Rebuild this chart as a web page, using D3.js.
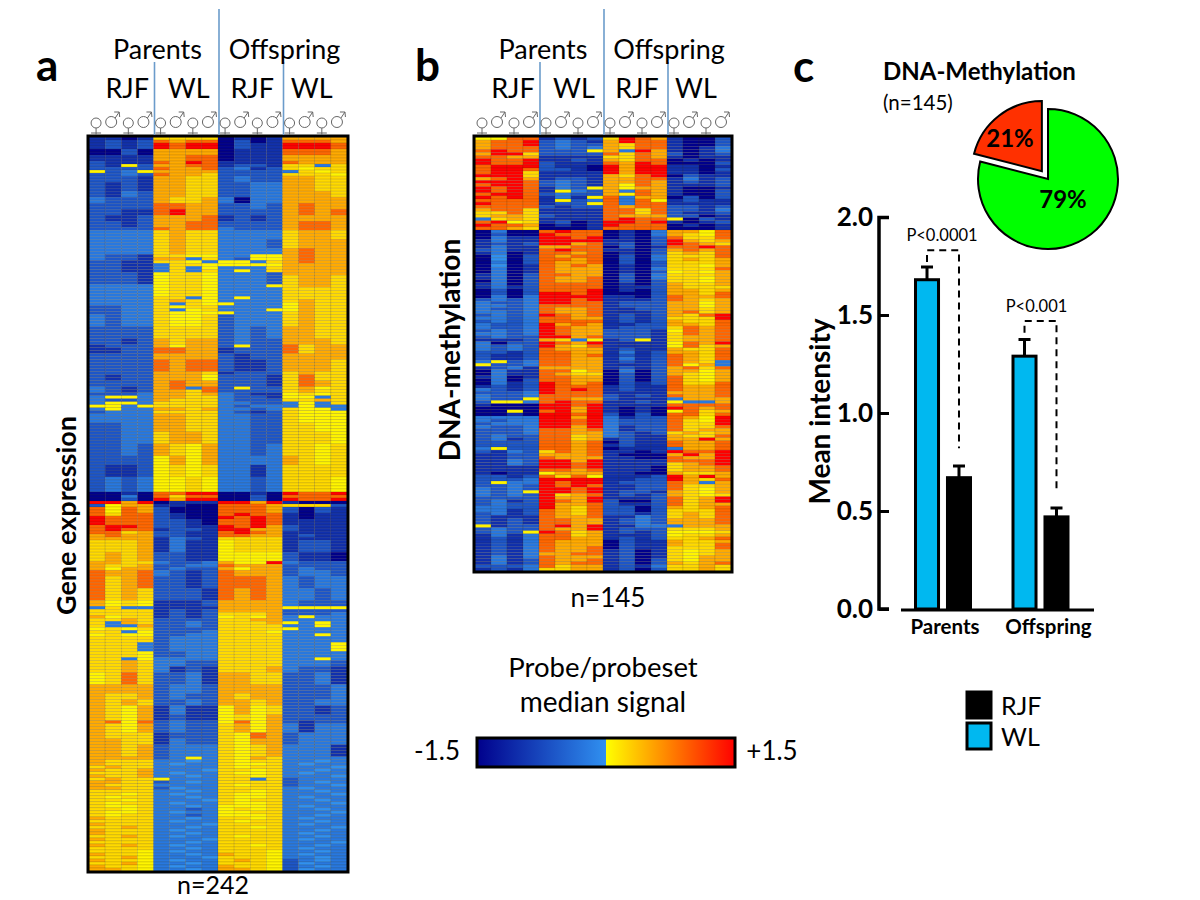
<!DOCTYPE html>
<html><head><meta charset="utf-8">
<script src="https://cdn.jsdelivr.net/npm/d3@7"></script>
<style>html,body{margin:0;background:#fff}svg{display:block}text{font-family:Lato,"Open Sans",sans-serif;fill:#000}</style>
</head><body><svg id="c" width="1200" height="900"></svg>
<script>
// colour levels: digit in the row strings -> signal value
const levels = [-1.5,-1.0,-.6,-.25,-.001,.06,.22,.5,.9,1.5];
const sampleGroups = ["RJF","WL","RJF","WL"];
const sampleLabelShift = [8,3,4,-3];
const sexes = ["f","m","f","m"];
// Panel a rows (digit per sample, "xN" = N consecutive rows alike)
const heatA = [
"1101 6666 0101 7777","1212 8788 0201 8887","1212 9899 0211 9998x2","0020 7777 0111 8887x2",
"1111 7788 0111 7777x2","2111 8798 1111 8777","2152 7788 1221 6636","2222 8778 2312 6566",
"5235 7777 2222 3656","2232 8776 2222 6665","2221 7766 2322 7766x2","2121 7766 2233 7766x3",
"2132 7766 2233 7776x2","3222 7667 3033 7777x2","2222 8877 2232 7877x2","2211 8977 2222 7878x2",
"2112 7778 1212 7777x2","2212 7788 2222 7887x2","2222 8788 3222 7887","3333 6766 3333 6776x3",
"3333 6766 3332 6777x3","3333 6766 3333 7877x2","3221 6655 3355 7877","3221 7736 3255 7877",
"2211 6653 5536 7877","2211 3665 5555 7777","2211 3635 3336 7777","2211 3636 3536 7777",
"2221 5665 3332 7777","2221 5665 3332 6776x3","3333 5665 3335 6776","3333 5665 3333 6666x3",
"3333 6635 3533 6666","3333 6765 3333 6766","3333 6365 5333 5766","2233 6566 3333 5766",
"2233 6356 3335 5766","2233 6555 5333 6766","3233 6556 2333 6766x4","2222 6666 2323 7766x4",
"2212 7677 2322 7776x2","1222 7577 2522 8677","1122 8877 1222 8677x2","2222 7777 2122 7777x2",
"2222 8788 2112 7776x4","2222 7776 1222 6766","2122 7775 2221 6866x2","2222 7877 2221 6876x2",
"3212 7838 2522 6756","3212 7768 2222 6766","2223 7767 3211 5656","3553 7766 3221 5536",
"3223 7666 3222 6676","3553 6666 3322 3536","5535 6666 3233 3533","3533 7767 3323 6553",
"2333 6666 3212 6555","3333 7766 3322 6555x3","2233 7766 3322 6655x3","2233 6776 3322 6665x4",
"2232 7657 3323 6656x4","2222 5757 3333 7656x3","2112 5656 3313 6666x4","2323 5565 3323 6665x5",
"0010 8899 0010 9889","0030 8688 0020 8888","0020 9799 0020 9889",
"9979 0111 9979 1000","2577 1100 8887 6662","8587 2000 8887 2021x2","8688 2100 8988 1011",
"9888 2100 9898 1011","9888 2210 8898 1111x2","8998 2211 9897 2111","8988 1221 9977 2111",
"8867 2211 8987 1111","7877 2211 8877 1211","7777 1321 6666 1111","6667 1311 5666 1221x4",
"6767 2211 5555 2110x3","7766 3223 7559 3222","7667 2233 8777 2222","7577 2322 7577 2322",
"8778 3212 8777 2332x2","8678 2212 8887 3233x4","8676 2221 8787 3323x4","7565 1112 7777 3222x2",
"3633 1111 7777 5555","6666 1212 7777 2222","6666 1212 6667 2223","7566 1212 5657 3533",
"6676 2222 6677 3333","6376 2232 6667 5353","6337 2232 6666 3353","5656 2222 6666 5333",
"6635 2223 6665 3333","5655 2233 6666 3353","6666 2333 6666 3333x2","6663 2333 6666 3335x3",
"6665 2233 6666 3333x2","6635 3333 6666 3353","6676 3322 6666 3332x2","6676 3121 6667 3221x2",
"5686 2231 7766 2231x4","7777 2332 7777 2223x3","7667 2322 7677 2223x2","7676 2232 7767 2233x2",
"7657 1311 5756 2212x3","7657 1211 5657 2222x2","7858 2322 5857 2122","7657 2322 6757 3133x3",
"7666 1222 6587 2333x2","7766 1322 6577 2333x2","7767 2333 6567 3331x4","7777 2353 6576 3333",
"7666 3343 6566 3343","7666 3433 6556 3433","6766 3333 6566 3334","7667 3334 6656 3343","6667 3433 6556 3433","7667 3343 6656 3334",
"6766 5333 6636 2333","7766 2343 6666 2343","7666 3333 6566 2334","7766 2433 6666 3433","6666 3343 6656 3343",
"6656 3433 6556 3334","6566 3343 6556 3433","6656 3334 6566 3343","6566 3433 6556 3334",
"6556 3343 5556 3433","6656 3323 5656 3343","6556 3433 5566 3334","6566 3323 5556 3343",
"7666 3343 6656 3433","6666 3433 6566 3343","7666 3334 6666 3433","6676 3343 6656 3334","7666 3433 6666 3343",
"7666 3343 6666 3433","6676 3433 6566 3343","7666 3334 6666 3433","6666 3343 6666 3334","7676 3433 6656 3343","6666 3343 6666 3433",
"6665 3433 6665 3343","7665 3343 7665 3433","6675 3334 6665 3343",
"7665 3433 6765 2343","6675 3343 6665 2433","7665 3433 7665 2343","7765 3343 7765 2433"
];
// Panel b rows
const heatB = [
"5588 1212 6987 1002","7889 2321 7988 1002","7889 2322 7688 1002","7888 2323 7688 1013","8988 2225 7397 1013",
"7996 2222 8687 2012","8877 1111 6687 1011","9889 1121 7688 0101","9889 2111 8798 0002","8999 2110 9799 1101",
"8998 2210 9799 1102","8996 1111 9799 1101","9996 1111 7689 0211","7897 1221 7788 1312","9998 2321 7787 1212",
"8998 2321 7587 1112","9898 1325 7577 1001","9898 1532 7387 1002","8998 2322 7587 1002","9898 1315 8377 0202",
"8888 1523 8385 1211","9888 1225 8388 1111","8888 2122 8788 2212","7886 1111 8868 2213","6686 1111 8868 2112",
"6776 2111 8777 2201","3676 1111 8988 5021","8956 1201 9989 1012","9887 0101 9888 0101","8876 0001 8888 0001",
"0300 8988 0103 7758","0200 9888 0103 7658","0311 9989 0102 8668","1311 9999 1102 9767","1212 9978 1202 9876",
"1311 7788 0201 8898","2311 8988 1102 7878","1301 8878 0102 6768","0402 8788 0203 6668","0402 8878 0203 6767",
"0302 8778 0202 6667","0401 8787 0102 6657","0301 8777 0103 6668","0301 8777 0102 5657","1302 8877 0203 6667",
"1302 8778 0203 6657","0302 8778 0202 6657","1302 8888 0102 7667","1312 8888 0112 7666","0202 8889 0102 7767",
"0202 9989 0002 7768","0303 9999 1102 8778","2323 9989 1112 8767","3223 9988 1222 7757","3323 8888 1222 7757",
"3223 8778 1122 7767","3323 8778 1112 7867","2323 9878 1212 7689","3323 8877 1212 6669","2323 8888 1212 7668",
"3223 9787 1122 7768","3223 9877 1222 6878","2323 9877 2221 5878","3323 9877 2221 6878","2322 9978 2221 6778",
"1112 7635 1251 6778","3022 9879 1111 5879","3232 9768 1111 5867","3232 8777 1211 7668","2212 8877 1312 7768",
"2112 8878 1212 8768","2112 8877 1312 8768","3523 8877 1212 8763","5223 8877 1112 8573","1231 7777 1212 7868",
"0311 8857 0302 7757","0311 8766 0202 7657","1301 8877 0202 8657","0302 8877 0202 8657","0312 9878 0212 8668",
"1212 9888 1211 8778","3212 9898 1211 8778","2223 9888 1111 7778","3223 8888 2121 8778","3225 8877 2111 3777",
"2553 8988 1121 5337","1000 9989 1111 8888","0000 9979 1010 9878","0050 8979 1010 5867","0010 9989 2020 8868",
"3333 9979 3122 8759","3233 9989 3222 8659","2333 9989 3222 8669","3223 9979 3122 8668","2223 8878 3122 8677",
"2223 8877 3212 6767","2322 8867 3211 7668","2312 8867 1211 7797","2222 8878 0211 8778","2222 8878 1211 8778",
"3522 8878 0111 3778","2132 6878 1101 9889","1122 7778 1000 7979","1122 8777 1100 8779","1132 9979 1111 8889",
"1132 9989 1111 6789","1111 9989 1110 6778","1111 8878 1110 6778","1011 5777 1100 7667","2212 8685 1112 9797",
"2223 9999 1122 9768","2533 9899 1222 8737","2232 9898 1122 8667","3232 9989 1122 8657","3235 9989 1221 7657",
"3232 9678 1212 7656","2222 9779 1112 8679","2312 9879 2002 8679","2322 9778 2112 8677","3322 9768 2202 7678",
"3312 8768 2202 6668","2312 8768 2212 6768","2111 8778 1132 6768","2121 8877 1232 7778","2121 8877 1232 7778",
"5122 8979 1133 3777","2322 8779 1222 6667","2325 9867 1212 5556","1313 8867 1112 5667","1213 8877 1212 6678",
"1213 8777 0211 7667","1213 8777 0211 7668","1213 8778 0211 6668","1213 8778 1201 6567","1213 7788 1201 6567",
"1313 8777 1201 6577","1312 8778 1202 6577","1312 8788 1202 7678","2223 8677 1213 6676","1213 6677 1202 6676"
];
// Panel c
const pieLabels = ["79%","21%"], pieValues = [79,21];
const barGroups = ["Parents","Offspring"], barSeries = ["WL","RJF"];
const barWL = [1.68,1.29], barRJF = [.67,.47];
const errWL = [1.745,1.375], errRJF = [.73,.515];
const bracketTop = [1.83,1.47], bracketLeftFrom = [1.77,1.41], bracketRightTo = [.82,.59];
const pValues = ["P<0.0001","P<0.001"];
const yTicks = [0,.5,1,1.5,2];

const svg = d3.select("#c");
const color = d3.scaleLinear().domain([-1.5,-.001,0,1.5]).range(["#00008c","#3090f0","#ffff00","#ff0000"]);
const txt = (x,y,s,size,o={}) => svg.append("text").attr("x",x).attr("y",y).attr("font-size",size)
  .attr("text-anchor",o.anchor||"middle").attr("font-weight",o.bold?"700":"400")
  .attr("transform",o.rot?`rotate(${o.rot} ${x} ${y})`:null).style("font-family",o.family||null).text(s);

function heat(rowsSrc, x0, x1, y0, y1){
  const rows=[];
  rowsSrc.forEach(r=>{const [v,n]=r.split("x");const d=v.replace(/ /g,"").split("").map(c=>levels[+c]);for(let i=0;i<(+n||1);i++)rows.push(d);});
  const X=d3.scaleBand().domain(d3.range(16)).range([x0,x1]);
  const Y=d3.scaleBand().domain(d3.range(rows.length)).range([y0,y1]);
  const g=svg.append("g");
  rows.forEach((r,i)=>g.selectAll(null).data(r).join("rect")
    .attr("x",(d,j)=>X(j)).attr("y",Y(i)).attr("width",X.bandwidth()).attr("height",Y.bandwidth())
    .attr("fill",d=>color(d)).attr("stroke","#3a2a00").attr("stroke-opacity",.28).attr("stroke-width",.5));
  svg.append("rect").attr("x",x0-1).attr("y",y0-1).attr("width",x1-x0+2).attr("height",y1-y0+2)
    .attr("fill","none").attr("stroke","#000").attr("stroke-width",3);
  // header
  const mid=(x0+x1)/2, q=(x1-x0)/4;
  [[mid-q,62],[mid,9],[mid+q,62]].forEach(([x,t])=>svg.append("line").attr("x1",x+1).attr("x2",x+1).attr("y1",t).attr("y2",y0-2).attr("stroke","#6b9ccb").attr("stroke-width",1.6));
  txt(mid-q+4,59,"Parents",27); txt(mid+q+2,59,"Offspring",27);
  sampleGroups.forEach((s,k)=>{txt(x0+q*(k+.5)-2+(k%2?2:0)+sampleLabelShift[k],98,s,27);
    sexes.forEach((sx,j)=>{const cx=X(k*4+j)+X.bandwidth()/2;
      const p=d3.path();
      if(sx=="f"){const c=cx-1;p.moveTo(c+5,123);p.arc(c,123,5,0,2*Math.PI);p.moveTo(c,128);p.lineTo(c,135);p.moveTo(c-5,133);p.lineTo(c+5,133);}
      else{const c=cx-2;p.moveTo(c+5.5,122);p.arc(c,122,5.5,0,2*Math.PI);p.moveTo(c+4,118);p.lineTo(c+8,112);p.moveTo(c+3,112);p.lineTo(c+8,112);p.lineTo(c+8.5,117);}
      svg.append("path").attr("d",p.toString()).attr("fill","none").attr("stroke","#666").attr("stroke-width",1);});
  });
}
heat(heatA,89,347,137,871);
heat(heatB,475,731,137,571);

txt(36,81,"a",44,{anchor:"start",bold:1});
txt(415,81,"b",44,{anchor:"start",bold:1});
txt(793,82,"c",44,{anchor:"start",bold:1});
txt(76,515.5,"Gene expression",27,{rot:-90,bold:1});
txt(460,350,"DNA-methylation",28,{rot:-90,bold:1});
txt(213,894,"n=242",25);
txt(608,607,"n=145",26);
txt(603,677,"Probe/probeset",27.5);
txt(603,712,"median signal",28);
txt(437,760,"-1.5",26);
txt(772,760,"+1.5",26);

// colour bar
const defs=svg.append("defs"), gr=defs.append("linearGradient").attr("id","cb");
[[-1.5],[-.001],[0],[1.5]].forEach(([v])=>gr.append("stop").attr("offset",(v+1.5)/3).attr("stop-color",color(v)));
svg.append("rect").attr("x",477).attr("y",738).attr("width",258).attr("height",29).attr("fill","url(#cb)").attr("stroke","#000").attr("stroke-width",3);

// pie
txt(883,80,"DNA-Methylation",24,{anchor:"start",bold:1});
txt(883,110,"(n=145)",20.5,{anchor:"start"});
const pie=d3.pie().sort(null)(pieValues), arc=d3.arc().innerRadius(0).outerRadius(70);
const pieFill=["#00ff00","#ff3000"];
pie.forEach((p,i)=>{const mid=(p.startAngle+p.endAngle)/2, off=i==1?10:0;
  svg.append("path").attr("d",arc(p)).attr("transform",`translate(${1048+off*Math.sin(mid)},${179-off*Math.cos(mid)})`)
   .attr("fill",pieFill[i]).attr("stroke","#000").attr("stroke-width",2);});
txt(1063,208,pieLabels[0],24,{bold:1}); txt(1010,147,pieLabels[1],24,{bold:1});

// bars
const y=d3.scaleLinear().domain([0,2]).range([609,217]);
const x=d3.scaleBand().domain(barGroups).range([895.25,1090.25]);
const xi=d3.scaleBand().domain(barSeries).range([20.25,75.25]).paddingInner(.28);
const ax=svg.append("g").attr("transform","translate(879,0)").call(d3.axisRight(y).tickValues(yTicks).tickSize(10).tickFormat(""));
ax.select(".domain").attr("stroke-width",3.5).attr("d","M10,217.5H0V609H10");
ax.selectAll("line").attr("stroke-width",3);
yTicks.forEach(t=>txt(873,y(t)+9,d3.format(".1f")(t),26,{anchor:"end",bold:1}));
txt(830,411.5,"Mean intensity",28,{rot:-90,bold:1});
barGroups.forEach((g,i)=>{
  const cw=x(g)+xi("WL")+xi.bandwidth()/2, cr=x(g)+xi("RJF")+xi.bandwidth()/2;
  [[cw,errWL[i]],[cr,errRJF[i]]].forEach(([c,e],k)=>{
    const top=y(k?barRJF[i]:barWL[i]);
    svg.append("path").attr("d",`M${c},${top}V${y(e)}M${c-6},${y(e)}H${c+6}`).attr("stroke","#000").attr("stroke-width",3).attr("fill","none");
  });
  svg.append("rect").attr("x",x(g)+xi("WL")).attr("y",y(barWL[i])).attr("width",xi.bandwidth()).attr("height",y(0)-y(barWL[i])).attr("fill","#00b8f0").attr("stroke","#000").attr("stroke-width",3);
  svg.append("rect").attr("x",x(g)+xi("RJF")).attr("y",y(barRJF[i])).attr("width",xi.bandwidth()).attr("height",y(0)-y(barRJF[i])).attr("fill","#000").attr("stroke","#000").attr("stroke-width",3);
  svg.append("path").attr("d",`M${cw},${y(bracketLeftFrom[i])}V${y(bracketTop[i])}H${cr}V${y(bracketRightTo[i])}`).attr("fill","none").attr("stroke","#000").attr("stroke-width",2).attr("stroke-dasharray","7 5");
  txt((cw+cr)/2-(i?4:1),y(bracketTop[i])-9,pValues[i],16.5);
  txt(x(g)+x.bandwidth()/2+(i?7:1),634,g,20.5,{bold:1});
});
svg.append("line").attr("x1",901).attr("x2",1094).attr("y1",610).attr("y2",610).attr("stroke","#000").attr("stroke-width",3);

// legend
const legend=[["RJF","#000",692],["WL","#00b8f0",723]];
legend.forEach(([n,c,t])=>{svg.append("rect").attr("x",967).attr("y",t).attr("width",24).attr("height",26).attr("fill",c).attr("stroke","#000").attr("stroke-width",3);
 txt(1001,t+23,n,25,{anchor:"start"});});
</script></body></html>
